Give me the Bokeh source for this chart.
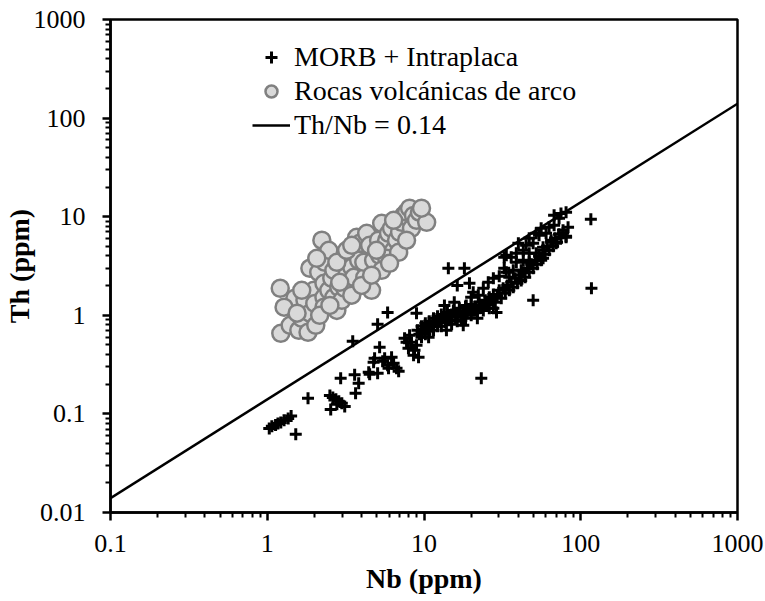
from bokeh.plotting import figure
from bokeh.models import (FixedTicker, CustomJSTickFormatter, Legend, LegendItem)
from bokeh.embed import file_html
from bokeh.resources import INLINE

# ---- data ----
morb_nb = [1.03, 1.07, 1.13, 1.17, 1.22, 1.28, 1.36, 1.42, 1.52, 1.82,
           2.51, 2.62, 2.74, 2.86, 2.99, 3.12, 2.54, 2.78,
           2.94, 3.61, 3.83, 3.66, 3.51,
           4.50, 5.06, 4.77, 5.21, 5.61, 6.21, 5.94, 6.40, 6.89, 5.86, 4.84, 5.45, 4.44, 6.68,
           5.06, 5.86,
           7.52, 8.09, 8.32, 7.96, 8.70, 9.23, 8.96, 9.64, 7.74, 8.58, 8.96,
           9.09, 9.35, 9.64, 9.64, 9.93, 10.2, 10.2, 10.5, 10.8, 10.8, 11.2, 11.5, 11.5, 11.8,
           12.2, 12.2, 12.6, 12.9, 12.9, 13.3, 13.7, 14.1, 14.1, 14.5, 15.0, 15.0, 15.4, 15.9,
           16.3, 16.3, 16.8, 17.3, 17.3, 17.8, 18.4, 18.4, 18.9, 19.5, 20.0, 20.0, 20.6, 21.3,
           21.9, 22.5, 22.5, 23.2, 23.9, 24.6, 25.3, 26.1, 26.1, 26.9, 27.7, 28.5, 29.3, 30.2,
           31.1, 32.0, 33.0, 34.0, 35.0, 36.0, 37.1, 38.2, 39.4, 40.5, 41.7, 43.0, 44.2, 45.5,
           46.9, 48.3, 49.7, 51.2, 52.7, 54.2, 55.9, 57.5, 59.3, 61.0, 62.8, 64.7, 66.6, 68.6,
           70.6, 72.7, 74.8, 77.1, 80.6, 83.0,
           16.3, 19.5, 20.6, 20.0, 22.2, 23.9, 25.7, 27.7, 30.2, 32.5, 33.5, 35.0, 37.1, 33.5,
           36.0, 38.8, 38.8, 41.7, 43.0, 43.0, 46.9, 46.9, 44.8, 49.7, 52.0, 46.9, 52.0, 54.2,
           55.9, 57.5, 60.1, 62.8, 64.7, 67.6, 69.6, 74.8, 67.6, 77.1, 80.6, 80.6, 72.7, 57.5,
           40.0, 32.5,
           14.3, 18.1, 13.5, 15.6, 18.6, 25.0, 27.7, 49.7, 116, 117, 23.2,
           10.7, 13.9, 17.8, 21.9, 29.0]
morb_th = [0.071, 0.075, 0.077, 0.080, 0.082, 0.086, 0.090, 0.095, 0.062, 0.144,
           0.154, 0.147, 0.141, 0.134, 0.128, 0.119, 0.111, 0.125,
           0.23, 0.25, 0.204, 0.162, 0.545,
           0.252, 0.258, 0.334, 0.473, 0.366, 0.375, 0.290, 0.326, 0.270, 0.311, 0.366, 0.341, 0.264, 0.290,
           0.81, 1.07,
           0.585, 0.627, 0.532, 0.463, 0.442, 0.375, 0.496, 0.598, 0.532, 0.393, 1.05,
           0.705, 0.642, 0.774, 0.673, 0.720, 0.830, 0.642, 0.756, 0.690, 0.870, 0.792, 0.933, 0.705, 0.849,
           0.774, 0.977, 0.890, 1.02, 0.774, 0.933, 0.849, 1.07, 0.955, 0.890, 1.02, 0.811, 1.12, 0.955,
           1.05, 0.870, 1.18, 1.00, 0.890, 1.10, 1.23, 0.933, 1.05, 1.15, 1.00, 1.29, 1.12, 1.23,
           1.07, 1.36, 1.18, 1.26, 1.12, 1.42, 1.29, 1.52, 1.18, 1.42, 1.63, 1.36, 1.56, 1.79,
           1.49, 1.88, 1.67, 2.01, 1.79, 2.16, 1.92, 2.37, 2.11, 2.55, 2.26, 2.73, 2.43, 3.00,
           2.73, 3.29, 3.00, 3.61, 3.29, 3.96, 3.61, 4.56, 4.15, 5.01, 4.56, 5.50, 5.01, 6.04,
           5.50, 6.63, 6.18, 7.28, 6.33, 7.80,
           2.01, 2.11, 1.71, 1.52, 1.60, 1.88, 2.16, 2.37, 2.49, 3.00, 2.73, 2.43, 2.86, 4.06,
           3.87, 4.25, 3.45, 2.86, 4.56, 3.61, 4.25, 3.45, 5.13, 5.38, 4.25, 6.04, 6.79, 6.48,
           7.62, 4.90, 6.79, 7.80, 5.77, 8.18, 5.38, 10.8, 10.35, 6.79, 6.18, 11.1, 9.64, 3.78,
           5.38, 3.87,
           3.00, 3.00, 1.26, 1.36, 1.26, 1.32, 1.18, 1.42, 9.4, 1.88, 0.23,
           0.60, 0.705, 0.792, 0.933, 1.07]

arc_nb = [1.21, 1.22, 1.40, 1.50, 1.59, 1.66, 1.74, 1.82, 1.87, 1.98, 2.01, 2.04, 1.87, 2.13,
          2.23, 2.30, 2.30, 2.30, 2.33, 2.47, 2.58, 2.66, 2.66, 2.78, 2.86, 2.99, 3.08, 3.12,
          3.21, 3.46, 3.56, 3.46, 3.72, 3.89, 3.83, 4.19, 4.13, 4.31, 4.50, 4.63, 4.77, 5.13,
          5.21, 5.37, 5.78, 5.94, 6.21, 6.40, 6.68, 6.99, 7.19, 7.41, 7.74, 8.09, 8.32, 8.57,
          8.96, 9.35, 10.4, 5.78, 1.28, 1.55, 5.37, 6.89, 6.03, 2.47, 2.78, 3.21, 2.07, 1.66,
          2.16, 2.51, 4.00, 4.63, 6.40, 9.64, 7.74, 4.98, 3.46, 2.90]
arc_th = [1.88, 0.657, 0.792, 1.49, 0.705, 0.933, 1.42, 0.673, 1.05, 1.79, 1.32, 0.792, 3.00, 2.73,
          5.77, 2.11, 1.52, 1.21, 3.45, 1.79, 2.37, 2.86, 1.52, 1.12, 1.92, 1.42, 3.87, 1.88,
          2.55, 3.07, 2.43, 1.60, 6.18, 5.37, 3.61, 2.43, 3.45, 6.79, 5.13, 1.79, 3.61, 5.77,
          4.06, 8.57, 5.77, 6.79, 7.62, 4.56, 5.77, 6.95, 8.77, 10.3, 11.1, 12.2, 7.62, 10.3,
          9.19, 11.1, 8.77, 3.78, 1.21, 1.05, 2.86, 4.35, 3.37, 4.56, 3.45, 4.56, 3.78, 1.79,
          1.00, 1.26, 2.01, 2.55, 9.19, 12.2, 5.77, 4.56, 5.13, 2.16]

ratio = 0.14
line_nb = [0.1, 1000]
line_th = [ratio * v for v in line_nb]

x_ticks = [0.1, 1, 10, 100, 1000]
y_ticks = [0.01, 0.1, 1, 10, 100, 1000]
minor = [k * 10.0 ** e for e in range(-2, 3) for k in range(2, 10)]

FONT = "Liberation Serif"

p = figure(width=765, height=601, x_axis_type="log", y_axis_type="log",
           x_range=(0.1, 1000), y_range=(0.01, 1000),
           output_backend="svg", toolbar_location=None,
           min_border_left=108, min_border_right=28,
           min_border_top=19, min_border_bottom=89)

p.xgrid.visible = False
p.ygrid.visible = False
p.outline_line_color = "black"
p.outline_line_width = 2.5
p.background_fill_color = "white"
p.border_fill_color = "white"

fmt = CustomJSTickFormatter(code="return tick.toString();")
p.xaxis.ticker = FixedTicker(ticks=x_ticks, minor_ticks=minor)
p.yaxis.ticker = FixedTicker(ticks=y_ticks, minor_ticks=minor)
for ax in (p.xaxis[0], p.yaxis[0]):
    ax.formatter = fmt
    ax.axis_line_width = 2.5
    ax.axis_line_color = "black"
    ax.major_tick_out = 8
    ax.major_tick_in = 0
    ax.minor_tick_out = 5
    ax.minor_tick_in = 0
    ax.major_tick_line_width = 2.5
    ax.minor_tick_line_width = 2
    ax.major_label_text_font = FONT
    ax.major_label_text_font_size = "26px"
    ax.major_label_text_color = "black"
    ax.axis_label_text_font = FONT
    ax.axis_label_text_font_size = "28px"
    ax.axis_label_text_font_style = "bold"
    ax.axis_label_text_color = "black"

p.xaxis.axis_label = "Nb (ppm)"
p.yaxis.axis_label = "Th (ppm)"
p.xaxis.major_label_standoff = 14
p.yaxis.major_label_standoff = 17
p.xaxis.axis_label_standoff = 8
p.yaxis.axis_label_standoff = -4

r_line = p.line(line_nb, line_th, line_color="black", line_width=2.5)
r_arc = p.scatter(arc_nb, arc_th, marker="circle", size=17,
                  fill_color="#d9d9d9", line_color="#808080", line_width=2.5)
r_morb = p.scatter(morb_nb, morb_th, marker="cross", size=12,
                   line_color="black", line_width=3)

legend = Legend(items=[LegendItem(label="MORB + Intraplaca", renderers=[r_morb]),
                       LegendItem(label="Rocas volcánicas de arco", renderers=[r_arc]),
                       LegendItem(label="Th/Nb = 0.14", renderers=[r_line])],
                location=(142, 371), padding=0, margin=0, spacing=2,
                glyph_width=38, glyph_height=30, label_standoff=4,
                label_text_font=FONT, label_text_font_size="28px",
                label_text_color="black",
                border_line_alpha=0, background_fill_alpha=0)
p.add_layout(legend)

open("out.html", "w").write(file_html(p, INLINE))
